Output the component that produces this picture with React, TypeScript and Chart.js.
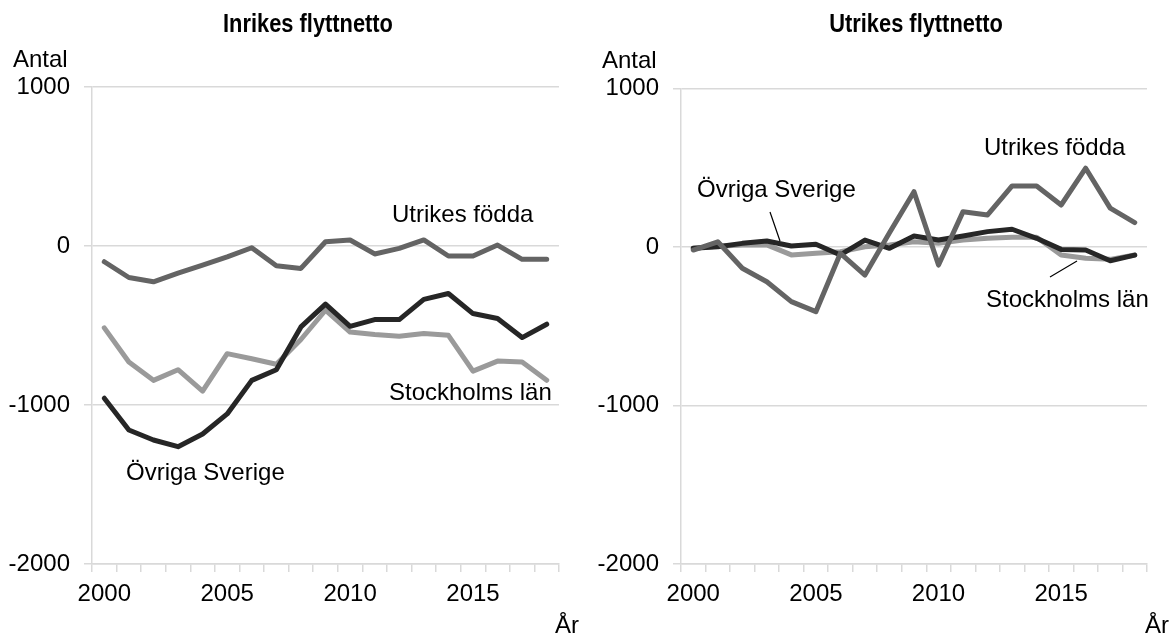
import React, { useEffect, useRef } from "react";
import { Chart, registerables } from "chart.js";

Chart.register(...registerables);

const years = ["2000","2001","2002","2003","2004","2005","2006","2007","2008","2009","2010","2011","2012","2013","2014","2015","2016","2017","2018"];
const yTicks = [-2000, -1000, 0, 1000];

// Inrikes flyttnetto
const inrikesUtrikesFodda = [-99,-198,-225,-170,-120,-68,-11,-124,-141,27,38,-50,-15,38,-63,-63,6,-84,-84];
const inrikesStockholmsLan = [-515,-730,-845,-778,-913,-677,-709,-744,-588,-404,-541,-557,-568,-551,-562,-787,-724,-730,-845];
const inrikesOvrigaSverige = [-957,-1157,-1220,-1262,-1182,-1056,-845,-778,-509,-366,-505,-463,-463,-336,-299,-425,-456,-576,-492];

// Utrikes flyttnetto
const utrikesUtrikesFodda = [-19,33,-134,-219,-345,-408,-40,-177,90,349,-114,223,202,385,385,265,497,245,154];
const utrikesStockholmsLan = [-8,4,13,13,-50,-40,-30,2,13,33,23,44,55,61,61,-50,-71,-78,-51];
const utrikesOvrigaSverige = [-8,2,23,38,6,17,-50,44,-8,69,44,69,97,112,55,-15,-19,-87,-51];

const FONT = '"Liberation Sans", Arial, sans-serif';
const TITLE_FONT = 'bold 26px "Liberation Sans", Arial, sans-serif';
const GRID = "#d9d9d9";

type Txt = { text: string; x: number; y: number; align?: CanvasTextAlign; font?: string; sx?: number };
type Ann = { texts: Txt[]; lines: number[][] };

function makeChart(
  canvas: HTMLCanvasElement,
  utr: number[],
  sth: number[],
  ovr: number[],
  pad: { top: number; right: number },
  yWidth: number,
  ann: Ann
) {
  const annPlugin = {
    id: "ann",
    afterDraw(chart: any) {
      const ctx = chart.ctx;
      ctx.save();
      ctx.fillStyle = "#000";
      ctx.textBaseline = "alphabetic";
      for (const t of ann.texts) {
        ctx.save();
        ctx.font = t.font || `24px ${FONT}`;
        ctx.textAlign = t.align || "left";
        const sx = t.sx || 1;
        ctx.translate(t.x, t.y);
        ctx.scale(sx, 1);
        ctx.fillText(t.text, 0, 0);
        ctx.restore();
      }
      ctx.strokeStyle = "#000";
      ctx.lineWidth = 1.2;
      for (const l of ann.lines) {
        ctx.beginPath();
        ctx.moveTo(l[0], l[1]);
        ctx.lineTo(l[2], l[3]);
        ctx.stroke();
      }
      ctx.restore();
    },
  };
  return new Chart(canvas, {
    type: "line",
    data: {
      labels: years,
      datasets: [
        { label: "Utrikes födda", data: utr, borderColor: "#646464" },
        { label: "Övriga Sverige", data: ovr, borderColor: "#262626" },
        { label: "Stockholms län", data: sth, borderColor: "#9a9a9a" },
      ].map((d) => ({
        ...d,
        borderWidth: 5,
        pointRadius: 0,
        tension: 0,
        fill: false,
        borderJoinStyle: "round" as const,
        borderCapStyle: "round" as const,
      })),
    },
    options: {
      animation: false,
      responsive: false,
      maintainAspectRatio: false,
      layout: { padding: { top: pad.top, right: pad.right, left: 0, bottom: 0 } },
      plugins: { legend: { display: false }, title: { display: false }, tooltip: { enabled: false } },
      scales: {
        x: {
          type: "category",
          offset: true,
          grid: { offset: true, drawOnChartArea: false, tickLength: 8, color: GRID, lineWidth: 1.5 },
          border: { color: GRID, width: 1.5 },
          ticks: {
            autoSkip: false,
            maxRotation: 0,
            padding: 8,
            color: "#000",
            font: { family: FONT, size: 24 },
            callback: (_v: any, i: number) => (i % 5 === 0 ? years[i] : ""),
          },
          afterFit: (s: any) => {
            s.height = 635 - 564;
          },
        },
        y: {
          min: yTicks[0],
          max: yTicks[yTicks.length - 1],
          afterBuildTicks: (s: any) => {
            s.ticks = yTicks.map((v) => ({ value: v }));
          },
          grid: { color: GRID, lineWidth: 1.5, tickLength: 8 },
          border: { color: GRID, width: 1.5 },
          ticks: {
            padding: 14,
            color: "#000",
            font: { family: FONT, size: 24 },
            callback: (v: any) => String(v),
          },
          afterFit: (s: any) => {
            s.width = yWidth;
          },
        },
      },
    },
    plugins: [annPlugin],
  } as any);
}

export default function App() {
  const leftRef = useRef<HTMLCanvasElement>(null);
  const rightRef = useRef<HTMLCanvasElement>(null);

  useEffect(() => {
    const c1 = makeChart(
      leftRef.current!,
      inrikesUtrikesFodda,
      inrikesStockholmsLan,
      inrikesOvrigaSverige,
      { top: 87, right: 26 },
      92,
      {
        texts: [
          { text: "Inrikes flyttnetto", x: 308, y: 32, align: "center", font: TITLE_FONT, sx: 0.84 },
          { text: "Antal", x: 13, y: 67 },
          { text: "Utrikes födda", x: 392, y: 222 },
          { text: "Stockholms län", x: 389, y: 400 },
          { text: "Övriga Sverige", x: 126, y: 480 },
          { text: "År", x: 555, y: 633 },
        ],
        lines: [],
      }
    );
    const c2 = makeChart(
      rightRef.current!,
      utrikesUtrikesFodda,
      utrikesStockholmsLan,
      utrikesOvrigaSverige,
      { top: 88.5, right: 24 },
      96,
      {
        texts: [
          { text: "Utrikes flyttnetto", x: 331, y: 32, align: "center", font: TITLE_FONT, sx: 0.84 },
          { text: "Antal", x: 17, y: 68 },
          { text: "Utrikes födda", x: 399, y: 155 },
          { text: "Övriga Sverige", x: 112, y: 197 },
          { text: "Stockholms län", x: 401, y: 307 },
          { text: "År", x: 560, y: 633 },
        ],
        lines: [
          [185, 212, 195, 241],
          [465, 277, 492, 261],
        ],
      }
    );
    return () => {
      c1.destroy();
      c2.destroy();
    };
  }, []);

  return (
    <div style={{ position: "absolute", left: 0, top: 0, width: 1171, height: 635, background: "#fff" }}>
      <canvas ref={leftRef} width={585} height={635} style={{ position: "absolute", left: 0, top: 0 }} />
      <canvas ref={rightRef} width={586} height={635} style={{ position: "absolute", left: 585, top: 0 }} />
    </div>
  );
}
